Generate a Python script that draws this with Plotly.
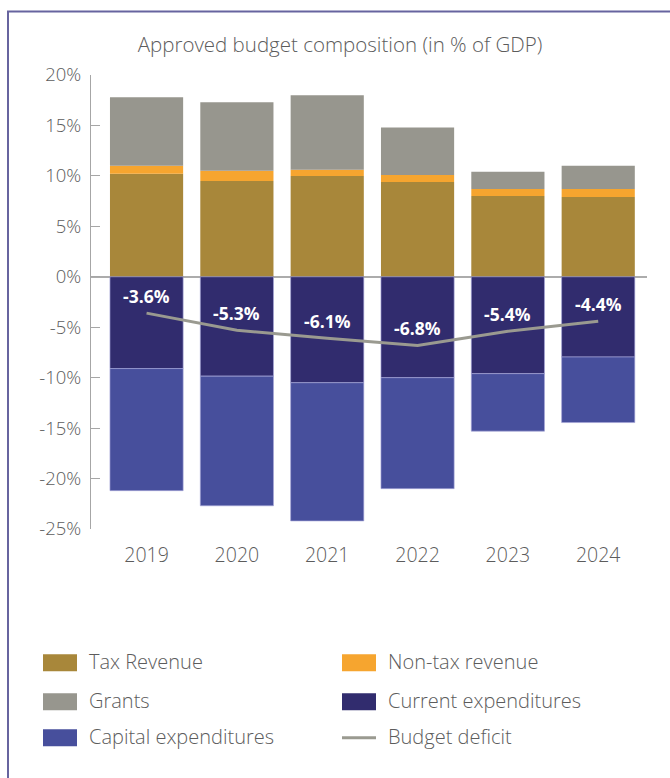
import plotly.graph_objects as go

# Approved budget composition, % of GDP
years = ["2019", "2020", "2021", "2022", "2023", "2024"]
tax_revenue = [10.2, 9.5, 10.0, 9.4, 8.0, 7.9]
non_tax_revenue = [0.8, 1.0, 0.6, 0.7, 0.7, 0.8]
grants = [6.8, 6.8, 7.4, 4.7, 1.7, 2.3]
current_expenditures = [-9.1, -9.85, -10.5, -10.0, -9.6, -7.95]
capital_expenditures = [-12.1, -12.85, -13.7, -11.0, -5.7, -6.5]
budget_deficit = [-3.6, -5.3, -6.1, -6.8, -5.4, -4.4]
y_ticks = [-25, -20, -15, -10, -5, 0, 5, 10, 15, 20]

COLORS = {
    "Tax Revenue": "#a8873a",
    "Non-tax revenue": "#f6a52f",
    "Grants": "#97968e",
    "Current expenditures": "#312c6e",
    "Capital expenditures": "#474f9c",
    "Budget deficit": "#9a9a90",
}

W, H = 670, 778
PLOT_L, PLOT_R, PLOT_T, PLOT_B = 91, 647, 75, 529.5
FONT = "Open Sans"
TEXT_GREY = "#5c5c5c"
LIGHT = 300


def px_x(x):
    return (x - PLOT_L) / (PLOT_R - PLOT_L)


def px_y(y):
    return (PLOT_B - y) / (PLOT_B - PLOT_T)


fig = go.Figure()

bar_series = [
    ("Tax Revenue", tax_revenue, None),
    ("Non-tax revenue", non_tax_revenue, None),
    ("Grants", grants, None),
    ("Current expenditures", current_expenditures, "rgba(165,165,215,0.65)"),
    ("Capital expenditures", capital_expenditures, "rgba(165,165,215,0.65)"),
]
for name, vals, edge in bar_series:
    fig.add_trace(go.Bar(
        x=years, y=vals, name=name,
        marker=dict(color=COLORS[name],
                    line=dict(color=edge or COLORS[name], width=1 if edge else 0)),
        showlegend=False, hoverinfo="skip",
    ))

fig.add_trace(go.Scatter(
    x=years, y=budget_deficit, name="Budget deficit", mode="lines",
    line=dict(color=COLORS["Budget deficit"], width=3),
    showlegend=False, hoverinfo="skip",
))

annotations = []
# deficit value labels, placed above each point (category index positions)
for i, v in enumerate(budget_deficit):
    annotations.append(dict(
        x=i, y=v, xref="x", yref="y", text=f"{v:.1f}%", showarrow=False,
        yshift=17, font=dict(family=FONT, size=17.5, color="white", weight=700),
    ))

# Legend: two columns of keys with labels
legend_rows = [663.5, 702.5, 738.5]
legend_cols = [(43, 77, 87), (342, 376, 386)]
legend_items = ["Tax Revenue", "Non-tax revenue", "Grants",
                "Current expenditures", "Capital expenditures", "Budget deficit"]
shapes = []
for i, name in enumerate(legend_items):
    row, col = divmod(i, 2)
    x0, x1, tx = legend_cols[col]
    cy = legend_rows[row]
    if name == "Budget deficit":
        shapes.append(dict(type="line", xref="paper", yref="paper",
                           x0=px_x(x0), x1=px_x(x1), y0=px_y(cy), y1=px_y(cy),
                           line=dict(color=COLORS[name], width=3)))
    else:
        shapes.append(dict(type="rect", xref="paper", yref="paper",
                           x0=px_x(x0), x1=px_x(x1),
                           y0=px_y(cy + 8.5), y1=px_y(cy - 8.5),
                           fillcolor=COLORS[name], line=dict(width=0)))
    annotations.append(dict(
        x=px_x(tx), y=px_y(cy - 1.5), xref="paper", yref="paper", text=name,
        showarrow=False, xanchor="left", yanchor="middle",
        font=dict(family=FONT, size=20, color=TEXT_GREY, weight=LIGHT),
    ))

# Outer frame (left and top edges visible)
shapes.append(dict(type="rect", xref="paper", yref="paper",
                   x0=px_x(8), x1=px_x(700), y0=px_y(800), y1=px_y(11.5),
                   line=dict(color="#67649f", width=2), fillcolor="rgba(0,0,0,0)",
                   layer="below"))

fig.update_layout(
    width=W, height=H,
    margin=dict(l=PLOT_L, r=W - PLOT_R, t=PLOT_T, b=H - PLOT_B),
    paper_bgcolor="white", plot_bgcolor="white",
    barmode="relative", bargap=0.19,
    showlegend=False,
    title=dict(text="Approved budget composition (in % of GDP)",
               xref="container", yref="container", x=340 / W, y=1 - 45 / H,
               xanchor="center", yanchor="middle",
               font=dict(family=FONT, size=20.5, color=TEXT_GREY, weight=LIGHT)),
    font=dict(family=FONT, color=TEXT_GREY),
    annotations=annotations, shapes=shapes,
)

fig.update_xaxes(
    type="category", range=[-0.615, 5.54],
    showline=False, showgrid=False, zeroline=False, ticks="",
    tickfont=dict(family=FONT, size=19.5, color=TEXT_GREY, weight=LIGHT),
    ticklabelstandoff=12,
)
fig.update_yaxes(
    range=[-25, 20], tickvals=y_ticks, ticktext=[f"{v}%" for v in y_ticks],
    showgrid=False, showline=True, linecolor="#a6a6a6", linewidth=1,
    ticks="inside", ticklen=9, tickcolor="#a6a6a6", tickwidth=1,
    zeroline=True, zerolinecolor="#acacac", zerolinewidth=1.5,
    tickfont=dict(family=FONT, size=18.5, color=TEXT_GREY, weight=LIGHT),
    ticklabelstandoff=5,
)

fig.write_html("out.html")
